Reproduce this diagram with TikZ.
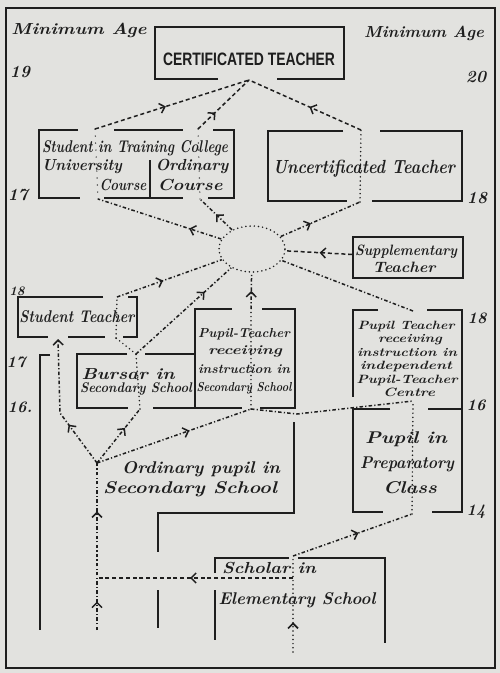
\documentclass[tikz,border=0pt]{standalone}
\usepackage{fontspec}
\usepackage{graphicx}
\newfontfamily\capsfont{Liberation Sans}
\usetikzlibrary{arrows.meta,decorations.markings,shapes.geometric}
\definecolor{paper}{RGB}{226,226,223}
\definecolor{ink}{RGB}{30,30,30}
\newlength\fwlen
\newcommand{\fw}[2]{\settowidth{\fwlen}{#2}\pgfmathsetmacro\fwr{#1/\fwlen}\scalebox{\fwr}[1]{#2}}
\begin{document}
\begin{tikzpicture}[x=1pt,y=-1pt,
  lab/.style={inner sep=0pt,anchor=base,text=ink,font=\fontsize{#1}{#1}\selectfont\bfseries\itshape},
  lab/.default=15,
  frame/.style={draw=ink,line width=1.6pt,line join=miter},
  boxl/.style={draw=ink,line width=1.8pt,line join=miter},
  flow/.style={draw=ink,line width=1.5pt,dash pattern={on 3.5pt off 2.2pt on 1.2pt off 2.2pt}},
  dsh/.style={draw=ink,line width=1.5pt,dash pattern={on 4pt off 2.8pt}},
  dots/.style={draw=ink,line width=1.7pt,line cap=round,dash pattern={on 0pt off 4.2pt}},
  sparse/.style={draw=ink,line width=1.4pt,line cap=round,dash pattern={on 0pt off 7pt}},
  arr/.style={postaction={decorate,decoration={markings,mark=at position #1 with {\arrow{Straight Barb[length=5pt,width=10pt]}}}}},
]
\fill[paper] (0,0) rectangle (500,673);
\useasboundingbox (0,0) rectangle (500,673);
\draw[frame] (6,8) rectangle (495,668);

% boxes
\draw[boxl] (218,79) -- (155,79) -- (155,27) -- (344,27) -- (344,79) -- (277,79);
\draw[boxl] (78,130) -- (39,130) -- (39,198) -- (80,198);
\draw[boxl] (114,130) -- (183,130);
\draw[boxl] (213,130) -- (234,130) -- (234,198) -- (208,198);
\draw[boxl] (104,198) -- (183,198);
\draw[boxl] (150,160) -- (150,198);
\draw[boxl] (343,131) -- (268,131) -- (268,201) -- (347,201);
\draw[boxl] (380,131) -- (462,131) -- (462,201) -- (372,201);
\node[draw=ink,line width=1.7pt,minimum width=110pt,minimum height=41pt,inner sep=0pt] (supp) at (408,257.5) {};
\draw[boxl] (103,297) -- (18,297) -- (18,337) -- (48,337);
\draw[boxl] (128,297) -- (137,297) -- (137,337) -- (123,337);
\draw[boxl] (68,337) -- (105,337);
\draw[boxl] (50,355) -- (40,355) -- (40,630);
\draw[boxl] (127,354) -- (77,354) -- (77,408) -- (128,408);
\draw[boxl] (145,354) -- (195,354);
\draw[boxl] (195,408) -- (195,309) -- (232,309);
\draw[boxl] (262,309) -- (295,309) -- (295,408) -- (260,408);
\draw[boxl] (153,408) -- (242,408);
\draw[boxl] (294,422) -- (294,513) -- (158,513) -- (158,552);
\draw[boxl] (158,590) -- (158,628);
\draw[boxl] (378,310) -- (353,310) -- (353,397);
\draw[boxl] (427,310) -- (462,310) -- (462,512) -- (432,512);
\draw[boxl] (390,409) -- (353,409) -- (353,512) -- (383,512);
\draw[boxl] (428,409) -- (462,409);
\draw[boxl] (215,573) -- (215,558) -- (289,558);
\draw[boxl] (298,558) -- (385,558) -- (385,643);
\draw[boxl] (215,590) -- (215,640);

% connection points
\coordinate (cT) at (249,80);
\coordinate (uTop) at (95,129);
\coordinate (uBot) at (98,199);
\coordinate (oTop) at (198,129);
\coordinate (oBot) at (200,199);
\coordinate (ucTop) at (361,130);
\coordinate (ucBot) at (360,202);
\coordinate (stTop) at (117,297);
\coordinate (stB1) at (58,339);
\coordinate (stB2) at (116,338);
\coordinate (bTop) at (136,354);
\coordinate (bBot) at (140,409);
\coordinate (ptsTop) at (251,309);
\coordinate (ptsBot) at (251,409);
\coordinate (ptiTop) at (413,311);
\coordinate (ptiBot) at (413,401);
\coordinate (prepBot) at (412,514);
\coordinate (hub) at (97,463);
\coordinate (hubL) at (60,413);
\coordinate (ptsR) at (297,414);
\coordinate (schTop) at (293,556);
\coordinate (schMid) at (293,578);
\coordinate (elBot) at (293,652);
\coordinate (leftJ) at (97,578);
\coordinate (leftBot) at (97,630);

\node[ellipse,dots,minimum width=66pt,minimum height=46pt,inner sep=0pt] (pool) at (252,249) {};

% connectors
\draw[dsh,arr=0.46] (uTop) -- (cT);
\draw[dsh,arr=0.34] (oTop) -- (cT);
\draw[dsh,arr=0.46] (ucTop) -- (cT);
\draw[flow,arr=0.26] (pool) -- (uBot);
\draw[flow,arr=0.5] (pool) -- (oBot);
\draw[flow,arr=0.38] (pool) -- (ucBot);
\draw[dsh,arr=0.49] (supp) -- (pool);
\draw[flow,arr=0.44] (stTop) -- (pool);
\draw[flow,arr=0.72] (bTop) -- (pool);
\draw[flow,arr=0.5] (ptsTop) -- (pool);
\draw[flow] (ptiTop) -- (pool);
\draw[sparse] (uBot) -- (uTop);
\draw[sparse] (oBot) -- (oTop);
\draw[dots] (ucBot) -- (ucTop);
\draw[dots] (stB2) -- (stTop);
\draw[dots] (bTop) -- (stB2);
\draw[dots] (bBot) -- (bTop);
\draw[dots] (ptsBot) -- (ptsTop);
\draw[flow,arr=0.35,-{Straight Barb[length=5pt,width=10pt]}] (hub) -- (hubL) -- (stB1);
\draw[flow,arr=0.65] (hub) -- (bBot);
\draw[flow,arr=0.6] (hub) -- (ptsBot);
\draw[flow] (ptsBot) -- (ptsR) -- (ptiBot);
\draw[dots] (prepBot) -- (ptiBot);
\draw[flow,arr=0.55] (schTop) -- (prepBot);
\draw[dots,arr=0.31] (elBot) -- (schTop);
\draw[dsh,arr=0.525] (schMid) -- (leftJ);
\draw[flow,arr=0.17,arr=0.71] (leftBot) -- (hub);

% texts
\node[lab=16] (minL) at (79,34) {\fw{135}{Minimum Age}};
\node[lab=16] (minR) at (424,37) {\fw{120}{Minimum Age}};
\node[lab=17] (n19) at (20,77) {19};
\node[lab=17] (n20) at (476,82) {20};
\node[inner sep=0pt,anchor=base,text=ink,font=\capsfont\bfseries\fontsize{18}{18}\selectfont] (cert) at (249,65) {\fw{172}{CERTIFICATED TEACHER}};
\node[lab=17] (stc) at (135,152) {\fw{186}{Student in Training College}};
\node[lab=16] (univ) at (82,170) {\fw{80}{University}};
\node[lab=16] (uco) at (123,190) {\fw{47}{Course}};
\node[lab=16] (ordy) at (192,170) {\fw{73}{Ordinary}};
\node[lab=16] (oco) at (190,190) {\fw{65}{Course}};
\node[lab=17] (n17a) at (18,200) {17};
\node[lab=19] (unc) at (364,173) {\fw{182}{Uncertificated Teacher}};
\node[lab=17] (n18a) at (477,203) {18};
\node[lab=15] (sup1) at (406,255) {\fw{102}{Supplementary}};
\node[lab=15] (sup2) at (404,272) {\fw{63}{Teacher}};
\node[lab=13] (n18b) at (17,295) {18};
\node[lab=17] (stt) at (77,322) {\fw{115}{Student Teacher}};
\node[lab=16] (n17b) at (16,367) {17};
\node[lab=16] (n16a) at (20,412) {16.};
\node[lab=16] (bu1) at (128,379) {\fw{93}{Bursar in}};
\node[lab=14] (bu2) at (136,392) {\fw{112}{Secondary School}};
\node[lab=13] (ps1) at (244,337) {\fw{92}{Pupil-Teacher}};
\node[lab=13] (ps2) at (245,354) {\fw{74}{receiving}};
\node[lab=13] (ps3) at (244,373) {\fw{92}{instruction in}};
\node[lab=13] (ps4) at (244,391) {\fw{95}{Secondary School}};
\node[lab=12] (pi1) at (406,329) {\fw{97}{Pupil Teacher}};
\node[lab=12] (pi2) at (410,342.5) {\fw{64}{receiving}};
\node[lab=12] (pi3) at (407,356) {\fw{100}{instruction in}};
\node[lab=12] (pi4) at (406,369.5) {\fw{92}{independent}};
\node[lab=12] (pi5) at (407,383) {\fw{101}{Pupil-Teacher}};
\node[lab=12] (pi6) at (409,396.5) {\fw{52}{Centre}};
\node[lab=16] (n18c) at (477,323) {18};
\node[lab=16] (n16b) at (476,410) {16};
\node[lab=17] (pr1) at (406,443) {\fw{82}{Pupil in}};
\node[lab=17] (pr2) at (407,468) {\fw{94}{Preparatory}};
\node[lab=17] (pr3) at (410,493) {\fw{54}{Class}};
\node[lab=16] (n14) at (476,515) {14};
\node[lab=17] (or1) at (201,473) {\fw{158}{Ordinary pupil in}};
\node[lab=17] (or2) at (190,493) {\fw{174}{Secondary School}};
\node[lab=16] (sch) at (269,573) {\fw{94}{Scholar in}};
\node[lab=17] (ele) at (297,604) {\fw{157}{Elementary School}};
\end{tikzpicture}
\end{document}
